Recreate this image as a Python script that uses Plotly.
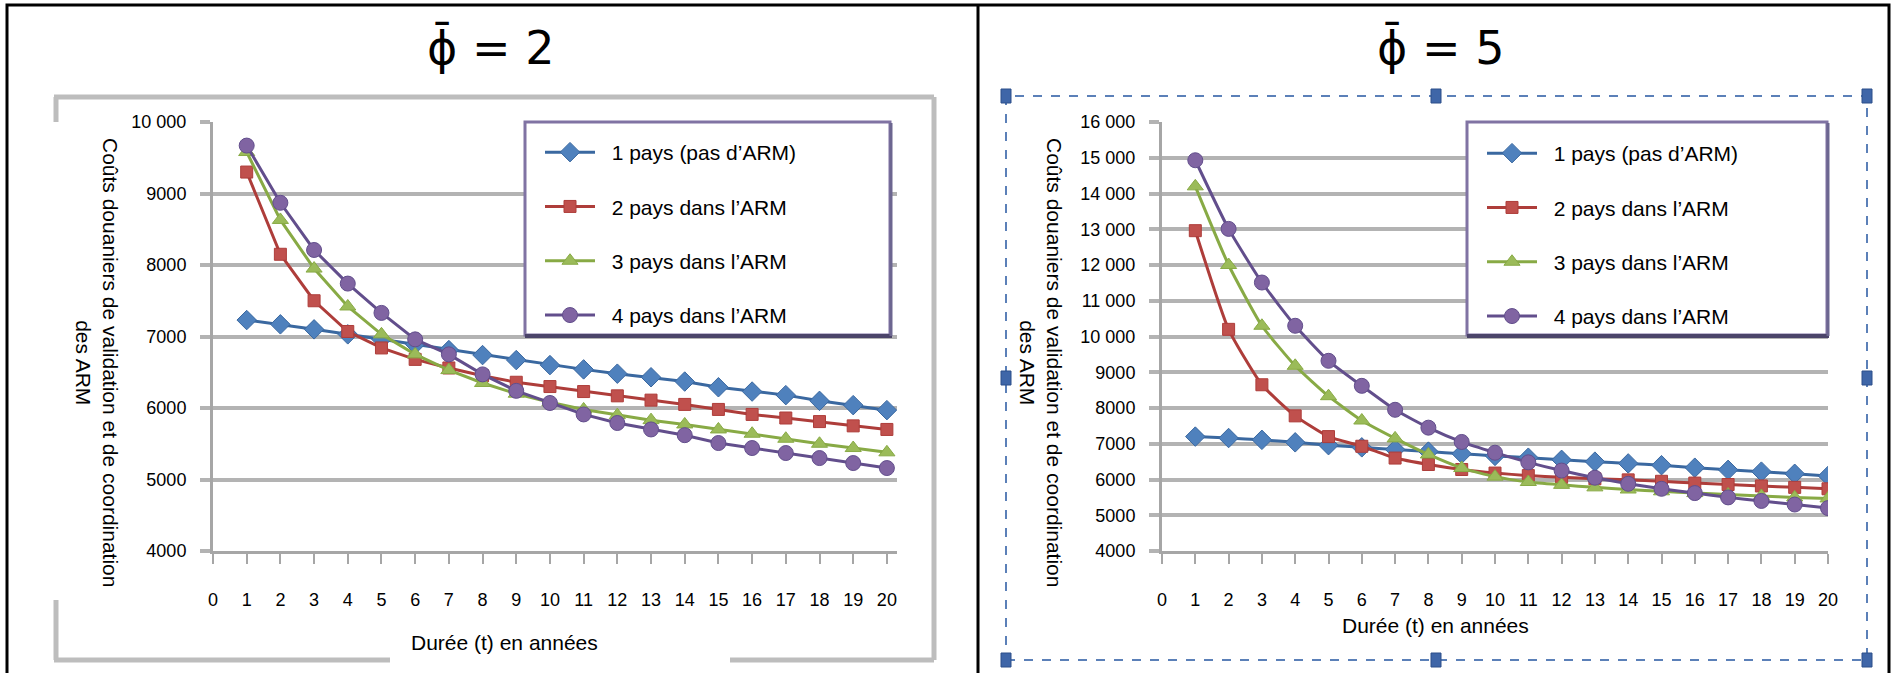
import plotly.graph_objects as go

W, H = 1894, 673

# ---------------- data ----------------
YEARS = list(range(1, 21))
SERIES_NAMES = ["1 pays (pas d’ARM)", "2 pays dans l’ARM", "3 pays dans l’ARM", "4 pays dans l’ARM"]

# phi = 2 (left chart)
LEFT_1 = [7230, 7170, 7100, 7030, 6960, 6890, 6810, 6740, 6670, 6600, 6540, 6480, 6430, 6370, 6290, 6230, 6180, 6100, 6040, 5970]
LEFT_2 = [9300, 8150, 7500, 7070, 6840, 6680, 6560, 6450, 6360, 6300, 6230, 6170, 6110, 6050, 5980, 5910, 5860, 5810, 5750, 5700]
LEFT_3 = [9580, 8630, 7950, 7420, 7030, 6750, 6530, 6350, 6200, 6080, 5980, 5900, 5830, 5770, 5700, 5640, 5570, 5500, 5440, 5380]
LEFT_4 = [9670, 8870, 8210, 7740, 7330, 6960, 6750, 6470, 6240, 6070, 5910, 5790, 5700, 5620, 5510, 5440, 5370, 5300, 5230, 5160]

# phi = 5 (right chart)
RIGHT_1 = [7200, 7160, 7110, 7040, 6960, 6900, 6840, 6780, 6720, 6660, 6610, 6550, 6500, 6450, 6400, 6330, 6270, 6220, 6160, 6100]
RIGHT_2 = [12960, 10200, 8650, 7780, 7200, 6930, 6600, 6420, 6280, 6180, 6110, 6060, 6020, 5990, 5950, 5900, 5860, 5820, 5780, 5740]
RIGHT_3 = [14200, 12000, 10300, 9180, 8330, 7650, 7150, 6700, 6320, 6080, 5930, 5850, 5780, 5720, 5670, 5620, 5580, 5540, 5500, 5470]
RIGHT_4 = [14930, 13010, 11510, 10300, 9320, 8620, 7950, 7450, 7050, 6750, 6480, 6250, 6050, 5880, 5740, 5620, 5500, 5400, 5300, 5200]

X_TICKS = list(range(0, 21))
X_TICK_LABELS = [str(v) for v in X_TICKS]
LEFT_Y_TICKS = [4000, 5000, 6000, 7000, 8000, 9000, 10000]
LEFT_Y_LABELS = ["4000", "5000", "6000", "7000", "8000", "9000", "10 000"]
RIGHT_Y_TICKS = [4000, 5000, 6000, 7000, 8000, 9000, 10000, 11000, 12000, 13000, 14000, 15000, 16000]
RIGHT_Y_LABELS = ["4000", "5000", "6000", "7000", "8000", "9000", "10 000", "11 000", "12 000",
                  "13 000", "14 000", "15 000", "16 000"]

TITLE_LEFT = "ϕ̄ = 2"
TITLE_RIGHT = "ϕ̄ = 5"
X_TITLE = "Durée (t) en années"
Y_TITLE = "Coûts douaniers de validation et de coordination<br>des ARM"

# ---------------- styles ----------------
MARKER_COLORS = ["#4F81BD", "#C0504D", "#9BBB59", "#8064A2"]
LINE_COLORS = ["#3A68A0", "#AE3D3A", "#88AA45", "#624E8C"]
SYMBOLS = ["diamond", "square", "triangle-up", "circle"]
SIZES = [15, 12, 14, 15]
FONT = "Liberation Sans, Arial, sans-serif"
GRID = "#b3b3b3"


def px(x):
    return x / W


def py(y):
    return 1 - y / H


fig = go.Figure()

left_sets = [LEFT_1, LEFT_2, LEFT_3, LEFT_4]
right_sets = [RIGHT_1, RIGHT_2, RIGHT_3, RIGHT_4]
for i, vals in enumerate(left_sets):
    fig.add_trace(go.Scatter(
        x=YEARS, y=vals, name="\u00a0\u00a0" + SERIES_NAMES[i], mode="lines+markers",
        line=dict(color=LINE_COLORS[i], width=3),
        marker=dict(symbol=SYMBOLS[i], size=SIZES[i], color=MARKER_COLORS[i],
                    line=dict(color=LINE_COLORS[i], width=1)),
        xaxis="x", yaxis="y", legend="legend", legendgroup="L%d" % i))
for i, vals in enumerate(right_sets):
    fig.add_trace(go.Scatter(
        x=YEARS, y=vals, name="\u00a0\u00a0" + SERIES_NAMES[i], mode="lines+markers",
        line=dict(color=LINE_COLORS[i], width=3, shape="spline", smoothing=0.5),
        marker=dict(symbol=SYMBOLS[i], size=SIZES[i], color=MARKER_COLORS[i],
                    line=dict(color=LINE_COLORS[i], width=1)),
        xaxis="x2", yaxis="y2", legend="legend2", legendgroup="R%d" % i))

axis_common = dict(showgrid=False, zeroline=False, showline=True, linecolor="#a6a6a6", linewidth=3,
                   ticks="outside", ticklen=10, tickwidth=2, tickcolor="#a6a6a6", tickangle=0,
                   tickfont=dict(family=FONT, size=18, color="black"), automargin=False)
yaxis_common = dict(showgrid=True, gridcolor=GRID, gridwidth=4, zeroline=False, showline=True,
                    linecolor="#a6a6a6", linewidth=3, ticks="outside", ticklen=10, tickwidth=4,
                    tickcolor=GRID, tickfont=dict(family=FONT, size=18, color="black"),
                    ticklabelstandoff=10, automargin=False)

legend_common = dict(xref="paper", yref="paper", xanchor="left", yanchor="top",
                     bgcolor="rgba(0,0,0,0)", borderwidth=0, font=dict(family=FONT, size=21, color="black"),
                     traceorder="grouped", tracegroupgap=24, itemwidth=50)

fig.update_layout(
    width=W, height=H, margin=dict(l=0, r=0, t=0, b=0, autoexpand=False),
    paper_bgcolor="white", plot_bgcolor="white", showlegend=True,
    xaxis=dict(domain=[px(213), px(897)], range=[0, 20.3], tickvals=X_TICKS, ticktext=X_TICK_LABELS,
               anchor="y", ticklabelstandoff=20, **axis_common),
    yaxis=dict(domain=[py(551), py(122)], range=[4000, 10000], tickvals=LEFT_Y_TICKS,
               ticktext=LEFT_Y_LABELS, anchor="x", **yaxis_common),
    xaxis2=dict(domain=[px(1162), px(1828)], range=[0, 20], tickvals=X_TICKS, ticktext=X_TICK_LABELS,
                anchor="y2", ticklabelstandoff=20, **axis_common),
    yaxis2=dict(domain=[py(551), py(122)], range=[4000, 16000], tickvals=RIGHT_Y_TICKS,
                ticktext=RIGHT_Y_LABELS, anchor="x2", **yaxis_common),
    legend=dict(x=px(540), y=py(132), **legend_common),
    legend2=dict(x=px(1482), y=py(133), **legend_common),
)

shapes = []
# outer black table frame and divider
shapes.append(dict(type="rect", xref="paper", yref="paper", x0=px(7), x1=px(1889), y0=py(690), y1=py(5),
                   line=dict(color="black", width=3)))
shapes.append(dict(type="line", xref="paper", yref="paper", x0=px(978), x1=px(978), y0=py(673), y1=py(5),
                   line=dict(color="black", width=3)))
# left chart-area gray frame (interrupted behind the axis titles)
gray = dict(color="#bdbdbd", width=5)
for (x0, y0, x1, y1) in [(54, 97, 934, 97), (934, 97, 934, 660), (54, 660, 390, 660), (730, 660, 934, 660),
                         (56, 97, 56, 122), (56, 600, 56, 660)]:
    shapes.append(dict(type="line", xref="paper", yref="paper", x0=px(x0), x1=px(x1), y0=py(y0), y1=py(y1),
                       line=gray))
# right chart-area dashed selection frame with handles
shapes.append(dict(type="rect", xref="paper", yref="paper", x0=px(1006), x1=px(1867), y0=py(660), y1=py(96),
                   line=dict(color="#5b80b8", width=2, dash="dash")))
for (hx, hy) in [(1006, 96), (1436, 96), (1867, 96), (1006, 378), (1867, 378), (1006, 660), (1436, 660),
                 (1867, 660)]:
    shapes.append(dict(type="rect", xref="paper", yref="paper", x0=px(hx - 5), x1=px(hx + 5),
                       y0=py(hy + 7), y1=py(hy - 7), fillcolor="#3f66a8", line=dict(color="#2d4f8a", width=1)))
# legend boxes
for (x0, x1) in [(525, 890), (1467, 1827)]:
    shapes.append(dict(type="rect", xref="paper", yref="paper", layer="above", x0=px(x0), x1=px(x1),
                       y0=py(335), y1=py(122), fillcolor="white", line=dict(color="#8073a3", width=3)))
    shapes.append(dict(type="line", xref="paper", yref="paper", layer="above", x0=px(x0), x1=px(x1 + 2),
                       y0=py(336), y1=py(336), line=dict(color="#4b4469", width=4)))
    shapes.append(dict(type="line", xref="paper", yref="paper", layer="above", x0=px(x1 + 1), x1=px(x1 + 1),
                       y0=py(336), y1=py(123), line=dict(color="#6c6690", width=3)))
fig.update_layout(shapes=shapes)

ann = []
title_font = dict(family="DejaVu Sans, sans-serif", size=46, color="black")
ann.append(dict(text=TITLE_LEFT, x=px(490), y=py(48), xref="paper", yref="paper", showarrow=False,
                font=title_font, xanchor="center", yanchor="middle"))
ann.append(dict(text=TITLE_RIGHT, x=px(1440), y=py(48), xref="paper", yref="paper", showarrow=False,
                font=title_font, xanchor="center", yanchor="middle"))
tfont = dict(family=FONT, size=21, color="black")
ann.append(dict(text=X_TITLE, x=px(505), y=py(642), xref="paper", yref="paper", showarrow=False,
                font=tfont, xanchor="center", yanchor="middle"))
ann.append(dict(text=X_TITLE, x=px(1435), y=py(625), xref="paper", yref="paper", showarrow=False,
                font=tfont, xanchor="center", yanchor="middle"))
ann.append(dict(text=Y_TITLE, x=px(97), y=py(362), xref="paper", yref="paper", showarrow=False,
                font=tfont, textangle=90, xanchor="center", yanchor="middle"))
ann.append(dict(text=Y_TITLE, x=px(1041), y=py(362), xref="paper", yref="paper", showarrow=False,
                font=tfont, textangle=90, xanchor="center", yanchor="middle"))
fig.update_layout(annotations=ann)

fig.write_html("out.html", config={"displayModeBar": False},
               post_script="document.body.style.margin='0';document.body.style.overflow='hidden';")
